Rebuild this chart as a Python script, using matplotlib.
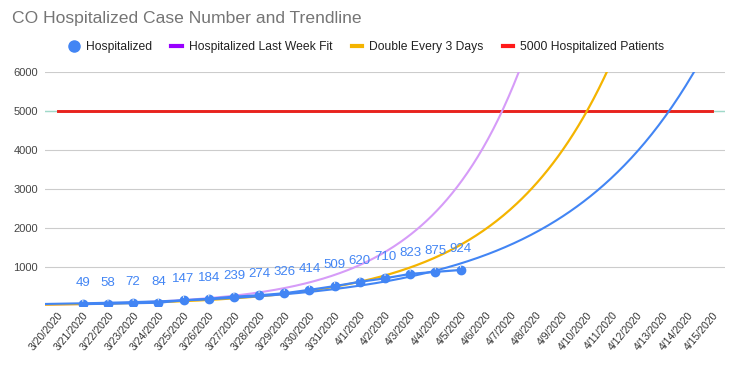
import numpy as np
import matplotlib
matplotlib.use('Agg')
import matplotlib.pyplot as plt
from matplotlib.lines import Line2D
from matplotlib.transforms import ScaledTranslation

plt.rcParams['font.family'] = ['Liberation Sans', 'DejaVu Sans']

# x categories
dates = ['3/20/2020', '3/21/2020', '3/22/2020', '3/23/2020', '3/24/2020',
         '3/25/2020', '3/26/2020', '3/27/2020', '3/28/2020', '3/29/2020',
         '3/30/2020', '3/31/2020', '4/1/2020', '4/2/2020', '4/3/2020',
         '4/4/2020', '4/5/2020', '4/6/2020', '4/7/2020', '4/8/2020',
         '4/9/2020', '4/10/2020', '4/11/2020', '4/12/2020', '4/13/2020',
         '4/14/2020', '4/15/2020']

# hospitalized counts, first reported on 3/21
hospitalized = [np.nan, 49, 58, 72, 84, 147, 184, 239, 274, 326, 414, 509,
                620, 710, 823, 875, 924]

# capacity line
capacity = [5000] * len(dates)

# trendline parameters (value at 3/20, growth per day)
hosp_fit_start, hosp_fit_rate = 57.4, 0.184
week_fit_start, week_fit_rate = 38.3, 0.276
double_start, double_days = 49, 3   # 49 on 3/21, doubling every 3 days

BLUE = '#4285f4'
PURPLE = '#9900ff'
YELLOW = '#f4b400'
RED = '#e8231d'

fig = plt.figure(figsize=(7.33, 3.68), dpi=100)
ax = fig.add_axes([0.0614, 0.1685, 0.9276, 0.6355])

xs = np.arange(len(dates))
xt = np.linspace(-0.5, len(dates) - 0.5, 400)

# light trendline under the capacity series
ax.plot(xt, np.full_like(xt, capacity[0]), color='#9fd9c9', lw=1.0, zorder=1)
ax.plot(xs, capacity, color=RED, lw=2.1, zorder=2)

ax.plot(xt, week_fit_start * np.exp(week_fit_rate * xt), color='#d69cf8', lw=1.5, zorder=3)
ax.plot(xt, double_start * 2 ** ((xt - 1) / double_days), color=YELLOW, lw=1.6, zorder=3)
ax.plot(xt, hosp_fit_start * np.exp(hosp_fit_rate * xt), color=BLUE, lw=1.5, zorder=3)

xh = xs[:len(hospitalized)]
ax.plot(xh, hospitalized, color=BLUE, lw=1.6, marker='o', ms=6, zorder=4)
for x, v in zip(xh, hospitalized):
    if np.isnan(v):
        continue
    ax.annotate(str(int(v)), (x, v), xytext=(0, 15), textcoords='offset points',
                ha='center', va='center', fontsize=9.5, color=BLUE,
                arrowprops=dict(arrowstyle='-', color='#ececec', lw=0.8,
                                shrinkA=6, shrinkB=2), zorder=5)

ax.set_xlim(-0.5, len(dates) - 0.5)
ax.set_ylim(0, 6000)
ax.set_yticks([1000, 2000, 3000, 4000, 5000, 6000])
ax.set_xticks(xs)
ax.set_xticklabels(dates, rotation=50, ha='right', rotation_mode='anchor',
                   fontsize=7.5, color='#333333')
shift = ScaledTranslation(-4 / 100, 0, fig.dpi_scale_trans)
for lab in ax.get_xticklabels():
    lab.set_transform(lab.get_transform() + shift)
ax.tick_params(axis='y', labelsize=8, colors='#444444', length=0, pad=5)
ax.tick_params(axis='x', length=0, pad=3)
ax.grid(axis='y', color='#cccccc', lw=0.8)
ax.set_axisbelow(True)
for s in ax.spines.values():
    s.set_visible(False)

fig.text(0.016, 0.95, 'CO Hospitalized Case Number and Trendline',
         fontsize=12.6, color='#757575', va='center', ha='left')

handles = [
    Line2D([], [], color=BLUE, marker='o', ls='none', ms=8),
    Line2D([], [], color=PURPLE, lw=3),
    Line2D([], [], color=YELLOW, lw=3),
    Line2D([], [], color='#ff1a1a', lw=3),
]
labels = ['Hospitalized', 'Hospitalized Last Week Fit', 'Double Every 3 Days',
          '5000 Hospitalized Patients']
fig.legend(handles, labels, loc='center', bbox_to_anchor=(0.5, 0.872), ncol=4,
           frameon=False, fontsize=8.7, handlelength=0.85, handletextpad=0.6,
           columnspacing=1.6, labelcolor='#222222')

fig.savefig('out.png', dpi=100)
